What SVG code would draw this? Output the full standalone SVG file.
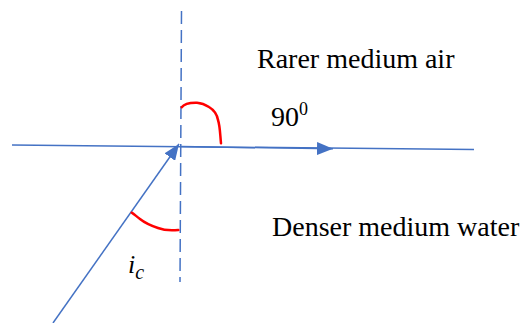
<svg xmlns="http://www.w3.org/2000/svg" width="526" height="323" viewBox="0 0 526 323">
<defs>
<style>
.blue{stroke:#4472C4;stroke-width:1.5;fill:none}
.dash{stroke:#4472C4;stroke-width:1.5;fill:none;stroke-dasharray:13 6}
.red{stroke:#FF0000;stroke-width:2.5;fill:none;stroke-linecap:round;stroke-linejoin:round}
.t{font-family:"Liberation Serif","Times New Roman",serif;font-size:28px;fill:#000}
.m{font-family:"Liberation Serif","Times New Roman",serif;font-style:italic;fill:#000}
</style>
<marker id="ah" viewBox="0 0 16 13" refX="16" refY="6.5" markerWidth="16" markerHeight="13" markerUnits="userSpaceOnUse" orient="auto">
<path d="M0,0 L16,6.5 L0,13 Z" fill="#4472C4"/>
</marker>
</defs>
<g id="connectors">
<line id="normal" class="dash" x1="181.5" y1="11" x2="180" y2="282"/>
<line id="surface" class="blue" x1="12" y1="145" x2="474" y2="149.5"/>
<line id="refracted" class="blue" x1="181" y1="146.5" x2="333" y2="148.8" marker-end="url(#ah)"/>
<line id="incident" class="blue" x1="53" y1="323" x2="179" y2="144" marker-end="url(#ah)"/>
</g>
<g id="angle-90">
<path class="red" d="M181.7,107.3 C184,104 190,102.5 197,102.7 C203,103 206,105 209,107 C214,110 217,114 218,120 C220,126 220,133 221,143.3"/>
</g>
<g id="angle-ic">
<path class="red" d="M131.7,212.7 C134,214 136,216 140,219 C145,223 152,226 158,228 C163,230 168,231 178.3,230"/>
</g>
<g id="label-rarer"><text class="t" x="257" y="68">Rarer medium air</text></g>
<g id="label-90"><text class="t" x="271" y="126">90<tspan font-size="18" dy="-11">0</tspan></text></g>
<g id="label-denser"><text class="t" x="272" y="236">Denser medium water</text></g>
<g id="label-ic"><text class="m" x="128" y="273" font-size="26">i<tspan font-size="20" dy="6">c</tspan></text></g>
</svg>
